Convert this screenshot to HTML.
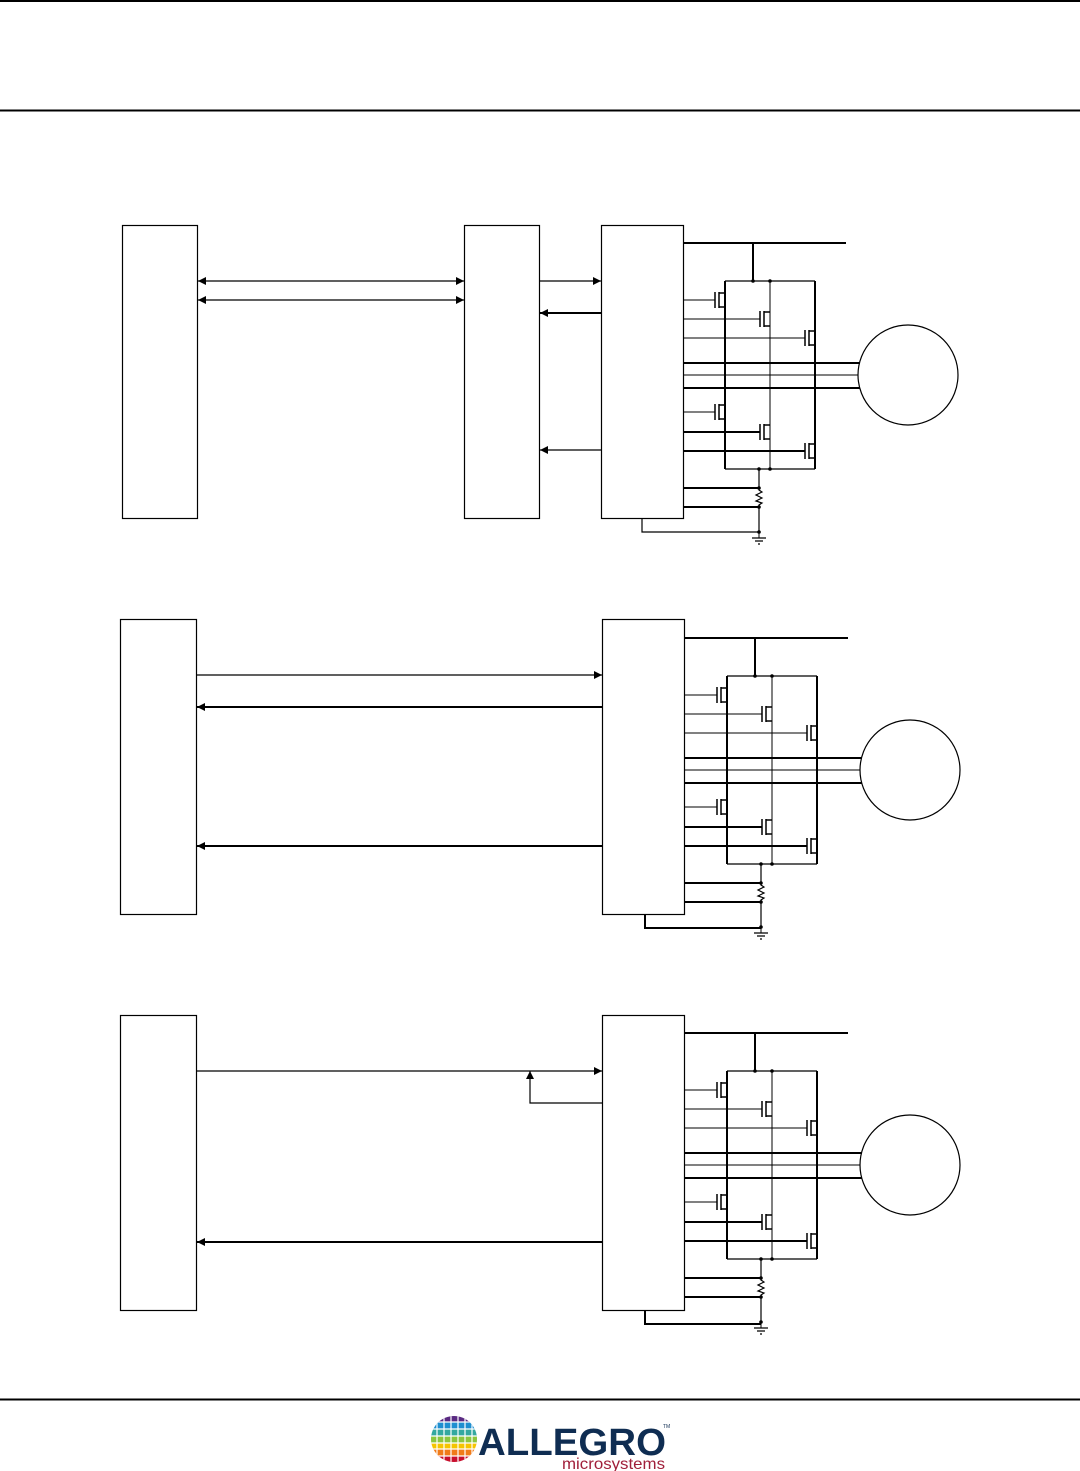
<!DOCTYPE html>
<html><head><meta charset="utf-8"><style>
html,body{margin:0;padding:0;background:#fff;}
svg{display:block}
</style></head><body>
<svg width="1080" height="1471" viewBox="0 0 1080 1471" xmlns="http://www.w3.org/2000/svg" font-family="Liberation Sans, sans-serif">
<defs>
<marker id="ar" viewBox="0 0 10 10" refX="10" refY="5" markerWidth="10" markerHeight="8" markerUnits="userSpaceOnUse" orient="auto-start-reverse"><path d="M0,0L10,5L0,10z" fill="#000"/></marker>
<g id="bridge" stroke="#000" fill="none">
<line x1="683" y1="243" x2="846" y2="243" stroke-width="2"/>
<line x1="753" y1="243" x2="753" y2="281" stroke-width="2"/>
<line x1="725" y1="281" x2="815" y2="281" stroke-width="1.2"/>
<line x1="725" y1="281" x2="725" y2="469" stroke-width="2"/>
<line x1="770" y1="281" x2="770" y2="469" stroke-width="1"/>
<line x1="815" y1="281" x2="815" y2="469" stroke-width="2"/>
<line x1="725" y1="469" x2="815" y2="469" stroke-width="1.2"/>
<!-- high side fets -->
<line x1="683" y1="300" x2="715" y2="300" stroke-width="1"/>
<path d="M715,292V308M719,292V308M719,293H725M719,307H725" stroke-width="1.5"/>
<line x1="683" y1="319" x2="760" y2="319" stroke-width="1"/>
<path d="M760,311V327M764,311V327M764,312H770M764,326H770" stroke-width="1.5"/>
<line x1="683" y1="338" x2="805" y2="338" stroke-width="1"/>
<path d="M805,330V346M809,330V346M809,331H815M809,345H815" stroke-width="1.5"/>
<!-- phases -->
<line x1="683" y1="363" x2="860" y2="363" stroke-width="2"/>
<line x1="683" y1="375" x2="858" y2="375" stroke-width="1"/>
<line x1="683" y1="388" x2="860" y2="388" stroke-width="2"/>
<!-- low side -->
<line x1="683" y1="412" x2="715" y2="412" stroke-width="1"/>
<path d="M715,404V420M719,404V420M719,405H725M719,419H725" stroke-width="1.5"/>
<line x1="683" y1="432" x2="760" y2="432" stroke-width="2"/>
<path d="M760,424V440M764,424V440M764,425H770M764,439H770" stroke-width="1.5"/>
<line x1="683" y1="451" x2="805" y2="451" stroke-width="2"/>
<path d="M805,443V459M809,443V459M809,444H815M809,458H815" stroke-width="1.5"/>
<!-- shunt -->
<line x1="683" y1="488" x2="759" y2="488" stroke-width="2"/>
<line x1="683" y1="507" x2="759" y2="507" stroke-width="2"/>
<path d="M759,469V490L762,492L756,495L762,498L756,501L762,503L759,505V532" stroke-width="1.2"/>
<path d="M752,538H766M755,541H763M758,544H760" stroke-width="1.2"/>
<line x1="759" y1="532" x2="759" y2="538" stroke-width="1"/>
<circle cx="908" cy="375" r="50" stroke-width="1.2"/>
<g fill="#000" stroke="none"><circle cx="753" cy="281" r="1.8"/><circle cx="770" cy="281" r="1.8"/><circle cx="759" cy="469" r="1.8"/><circle cx="770" cy="469" r="1.8"/><circle cx="759" cy="488" r="1.8"/><circle cx="759" cy="507" r="1.8"/><circle cx="759" cy="532" r="1.8"/></g>
</g>
</defs>
<line x1="0" y1="1" x2="1080" y2="1" stroke="#000" stroke-width="2"/>
<line x1="0" y1="110.5" x2="1080" y2="110.5" stroke="#000" stroke-width="2"/>
<line x1="0" y1="1399.5" x2="1080" y2="1399.5" stroke="#000" stroke-width="2"/>

<!-- diagram 1 -->
<g stroke="#000" fill="none" stroke-width="1.2">
<rect x="122.5" y="225.5" width="75" height="293"/>
<rect x="464.5" y="225.5" width="75" height="293"/>
<rect x="601.5" y="225.5" width="82" height="293"/>
<line x1="198" y1="281" x2="464" y2="281" marker-start="url(#ar)" marker-end="url(#ar)"/>
<line x1="198" y1="300" x2="464" y2="300" marker-start="url(#ar)" marker-end="url(#ar)"/>
<line x1="540" y1="281" x2="601" y2="281" marker-end="url(#ar)"/>
<line x1="601" y1="313" x2="540" y2="313" stroke-width="2" marker-end="url(#ar)"/>
<line x1="601" y1="450" x2="540" y2="450" marker-end="url(#ar)"/>
<path d="M642,518V532H759"/>
</g>
<use href="#bridge"/>

<!-- diagram 2 -->
<g stroke="#000" fill="none" stroke-width="1.2">
<rect x="120.5" y="619.5" width="76" height="295"/>
<rect x="602.5" y="619.5" width="82" height="295"/>
<line x1="197" y1="675" x2="602" y2="675" marker-end="url(#ar)"/>
<line x1="602" y1="707" x2="197" y2="707" stroke-width="2" marker-end="url(#ar)"/>
<line x1="602" y1="846" x2="197" y2="846" stroke-width="2" marker-end="url(#ar)"/>
<path d="M645,914V928H761" stroke-width="2"/>
</g>
<use href="#bridge" transform="translate(2,395)"/>

<!-- diagram 3 -->
<g stroke="#000" fill="none" stroke-width="1.2">
<rect x="120.5" y="1015.5" width="76" height="295"/>
<rect x="602.5" y="1015.5" width="82" height="295"/>
<line x1="197" y1="1071" x2="602" y2="1071" marker-end="url(#ar)"/>
<path d="M602,1103H530V1071" marker-end="url(#ar)"/>
<line x1="602" y1="1242" x2="197" y2="1242" stroke-width="2" marker-end="url(#ar)"/>
<path d="M645,1310V1324H761" stroke-width="2"/>
</g>
<use href="#bridge" transform="translate(2,790)"/>

<!-- logo -->
<defs><clipPath id="lc"><circle cx="454" cy="1439" r="23"/></clipPath></defs>
<g clip-path="url(#lc)">
<rect x="430" y="1415" width="50" height="7" fill="#5a2a82"/>
<rect x="430" y="1422" width="50" height="7" fill="#1f8fd0"/>
<rect x="430" y="1429" width="50" height="7" fill="#34a8a0"/>
<rect x="430" y="1436" width="50" height="7" fill="#8cc63f"/>
<rect x="430" y="1443" width="50" height="6" fill="#f5c400"/>
<rect x="430" y="1449" width="50" height="7" fill="#f07b1a"/>
<rect x="430" y="1456" width="50" height="8" fill="#c8102e"/>
<g stroke="#fff" stroke-width="1.2">
<line x1="437" y1="1410" x2="437" y2="1470"/><line x1="444" y1="1410" x2="444" y2="1470"/><line x1="451" y1="1410" x2="451" y2="1470"/><line x1="458" y1="1410" x2="458" y2="1470"/><line x1="465" y1="1410" x2="465" y2="1470"/><line x1="472" y1="1410" x2="472" y2="1470"/>
<line x1="430" y1="1422" x2="480" y2="1422"/><line x1="430" y1="1429" x2="480" y2="1429"/><line x1="430" y1="1436" x2="480" y2="1436"/><line x1="430" y1="1443" x2="480" y2="1443"/><line x1="430" y1="1449" x2="480" y2="1449"/><line x1="430" y1="1456" x2="480" y2="1456"/>
</g>
</g>
<text x="478" y="1455" font-size="38" font-weight="bold" fill="#0f2d52" textLength="188" lengthAdjust="spacingAndGlyphs">ALLEGRO</text>
<text x="663" y="1428" font-size="5" fill="#0f2d52">TM</text>
<text x="562" y="1469" font-size="16" fill="#a01f3a" textLength="103" lengthAdjust="spacingAndGlyphs">microsystems</text>
</svg>
</body></html>
